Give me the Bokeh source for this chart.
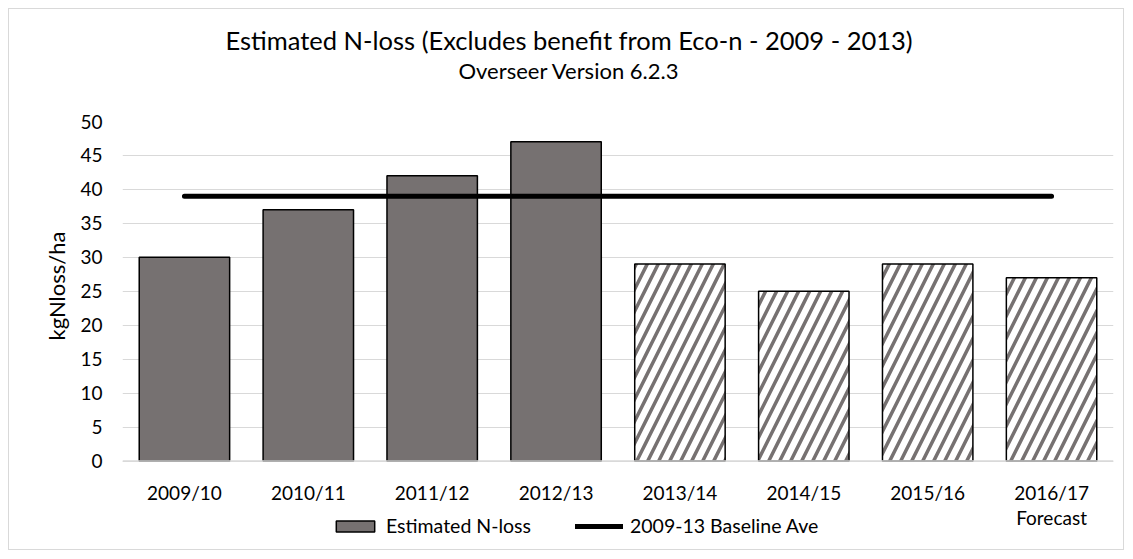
from bokeh.plotting import figure
from bokeh.models import (ColumnDataSource, Legend, LegendItem, Title, FactorRange,
                          FixedTicker, InlineStyleSheet, Span)
from bokeh.core.properties import value
from bokeh.embed import file_html
from bokeh.resources import INLINE

# ---- data ----
categories = ["2009/10", "2010/11", "2011/12", "2012/13",
              "2013/14", "2014/15", "2015/16", "2016/17"]
tick_labels = ["2009/10", "2010/11", "2011/12", "2012/13",
               "2013/14", "2014/15", "2015/16", "2016/17\nForecast"]
nloss = [30, 37, 42, 47, 29, 25, 29, 27]
is_hatched = [False, False, False, False, True, True, True, True]
baseline_ave = [39, 39, 39, 39, 39, 39, 39, 39]
y_ticks = [0, 5, 10, 15, 20, 25, 30, 35, 40, 45, 50]

title_text = "Estimated N-loss (Excludes benefit from Eco-n - 2009 - 2013)"
subtitle_text = "Overseer Version 6.2.3"
y_label = "kgNloss/ha"
series_bar = "Estimated N-loss"
series_line = "2009-13 Baseline Ave"

FONT = "Lato"
BAR_GREY = "#767171"
TEXT = "#000000"

# layout constants (axis extent)
Y_MIN = -12.44          # frame extends below 0 to hold category labels + legend
LABEL_Y = -2.9          # top of category labels, in axis units

solid_src = ColumnDataSource(dict(
    x=[c for c, h in zip(categories, is_hatched) if not h],
    top=[v for v, h in zip(nloss, is_hatched) if not h]))
hatch_src = ColumnDataSource(dict(
    x=[c for c, h in zip(categories, is_hatched) if h],
    top=[v for v, h in zip(nloss, is_hatched) if h]))
line_src = ColumnDataSource(dict(x=categories, y=baseline_ave))
label_src = ColumnDataSource(dict(x=categories, text=tick_labels))

p = figure(width=1116, height=542,
           x_range=FactorRange(*categories), y_range=(Y_MIN, 50),
           output_backend="svg", toolbar_location=None,
           min_border_left=113, min_border_right=12,
           min_border_top=112, min_border_bottom=6)
p.margin = (8, 8, 8, 8)
p.stylesheets = [InlineStyleSheet(css=":host { border: 1px solid #d9d9d9; }")]
p.outline_line_color = None
p.background_fill_color = "white"
p.border_fill_color = "white"

# grid
p.xgrid.grid_line_color = None
p.ygrid.grid_line_color = "#d9d9d9"
p.ygrid.grid_line_width = 1
p.ygrid.ticker = FixedTicker(ticks=y_ticks)
p.add_layout(Span(location=0, dimension="width", line_color="#d9d9d9",
                  line_width=1.5))

r_solid = p.vbar(x="x", top="top", width=0.73, source=solid_src,
                 fill_color=BAR_GREY, line_color="black", line_width=1.5)
r_hatch = p.vbar(x="x", top="top", width=0.73, source=hatch_src,
                 fill_color="white", line_color="black", line_width=1.5,
                 hatch_pattern="/", hatch_color=BAR_GREY,
                 hatch_scale=22, hatch_weight=3.5)
r_line = p.line(x="x", y="y", source=line_src, line_color="black",
                line_width=5, line_cap="round")

# category labels (drawn inside the extended frame)
p.text(x="x", y=LABEL_Y, text="text", source=label_src,
       text_align="center", text_baseline="top",
       text_font=value(FONT), text_font_size=value("19px"),
       text_color=TEXT, text_line_height=1.12)

# y axis
p.yaxis.ticker = FixedTicker(ticks=y_ticks)
p.yaxis.axis_line_color = None
p.yaxis.major_tick_line_color = None
p.yaxis.minor_tick_line_color = None
p.yaxis.major_label_standoff = 14
p.yaxis.major_label_text_font = FONT
p.yaxis.major_label_text_font_size = "19px"
p.yaxis.major_label_text_color = TEXT

# x axis is replaced by the labels above
p.xaxis.visible = False

# y axis title as a left-side title
p.add_layout(Title(text=y_label, align="left", offset=205,
                   text_font=FONT, text_font_size="22px",
                   text_font_style="normal", text_color=TEXT,
                   standoff=16), "left")

# titles (first added sits closest to the plot)
p.title = None
sub_kw = dict(text=subtitle_text, align="left", offset=336,
              text_font=FONT, text_font_size="22px",
              text_font_style="normal", text_color=TEXT)
if "padding" in Title.properties():
    sub_kw.update(standoff=0, padding=(0, 0, 0, 38))
else:
    sub_kw.update(standoff=76)
p.add_layout(Title(**sub_kw), "above")
p.add_layout(Title(text=title_text, align="left", offset=103,
                   text_font=FONT, text_font_size="25.5px",
                   text_font_style="normal", text_color=TEXT,
                   standoff=0), "above")

legend = Legend(items=[LegendItem(label=series_bar, renderers=[r_solid]),
                       LegendItem(label=series_line, renderers=[r_line])],
                orientation="horizontal", location=(209, 8),
                glyph_width=48, glyph_height=14, label_standoff=7,
                spacing=44, padding=0, margin=0,
                border_line_color=None, background_fill_alpha=0,
                label_text_font=FONT, label_text_font_size="19.5px",
                label_text_color=TEXT)
p.add_layout(legend, "center")

open("out.html", "w").write(file_html(p, INLINE))
